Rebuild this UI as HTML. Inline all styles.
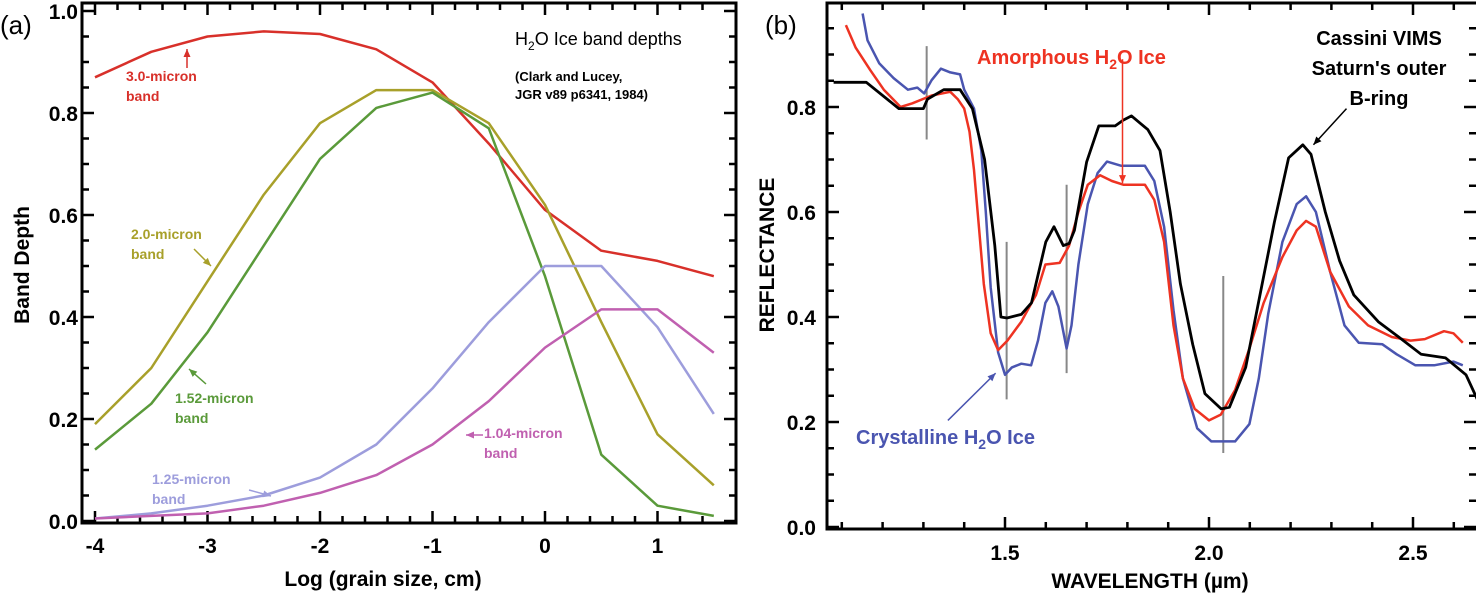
<!DOCTYPE html>
<html><head><meta charset="utf-8"><style>
body{margin:0;background:#fff;}
svg text{font-family:"Liberation Sans",sans-serif;}
</style></head><body>
<svg id="fig" width="1476" height="593" viewBox="0 0 1476 593" xmlns="http://www.w3.org/2000/svg">
<g id="pa"></g>
<g id="pb"></g>
</svg>
<script>
// ---- Panel (a) data ----
const aX = [-4,-3.5,-3,-2.5,-2,-1.5,-1,-0.5,0,0.5,1,1.5];
const band30 = [0.87,0.92,0.95,0.96,0.955,0.925,0.86,0.74,0.61,0.53,0.51,0.48];
const band20 = [0.19,0.30,0.47,0.64,0.78,0.845,0.845,0.78,0.62,0.39,0.17,0.07];
const band152 = [0.14,0.23,0.37,0.54,0.71,0.81,0.84,0.77,0.48,0.13,0.03,0.01];
const band125 = [0.005,0.015,0.03,0.05,0.085,0.15,0.26,0.39,0.50,0.50,0.38,0.21];
const band104 = [0.005,0.01,0.015,0.03,0.055,0.09,0.15,0.235,0.34,0.415,0.415,0.33];
const aXTicks = [-4,-3,-2,-1,0,1];
const aXTickLabels = ["-4","-3","-2","-1","0","1"];
const aYTicks = [0,0.2,0.4,0.6,0.8,1.0];
const aYTickLabels = ["0.0","0.2","0.4","0.6","0.8","1.0"];

// ---- Panel (b) data ----
const blackW = [1.08,1.16,1.24,1.30,1.31,1.35,1.39,1.42,1.45,1.475,1.49,1.505,1.54,1.565,1.60,1.62,1.643,1.657,1.67,1.70,1.73,1.77,1.79,1.81,1.85,1.88,1.905,1.93,1.96,1.99,2.03,2.05,2.09,2.125,2.16,2.195,2.23,2.25,2.285,2.32,2.355,2.415,2.465,2.52,2.58,2.63,2.66,2.675];
const blackR = [0.847,0.847,0.797,0.797,0.815,0.833,0.833,0.797,0.70,0.536,0.40,0.398,0.405,0.427,0.543,0.572,0.536,0.54,0.565,0.695,0.764,0.764,0.775,0.783,0.757,0.717,0.60,0.463,0.348,0.254,0.225,0.228,0.304,0.442,0.58,0.703,0.728,0.71,0.60,0.507,0.442,0.391,0.362,0.329,0.322,0.29,0.239,0.196];
const amorW = [1.11,1.134,1.17,1.203,1.244,1.273,1.32,1.366,1.384,1.40,1.413,1.424,1.436,1.448,1.465,1.483,1.506,1.54,1.576,1.599,1.634,1.657,1.68,1.703,1.733,1.762,1.79,1.843,1.866,1.89,1.913,1.936,1.965,2.0,2.029,2.064,2.099,2.134,2.18,2.215,2.238,2.262,2.297,2.343,2.39,2.448,2.494,2.529,2.576,2.599,2.622];
const amorR = [0.956,0.913,0.87,0.833,0.80,0.807,0.822,0.829,0.815,0.797,0.753,0.68,0.572,0.463,0.369,0.337,0.355,0.391,0.442,0.50,0.503,0.536,0.60,0.652,0.67,0.659,0.652,0.652,0.623,0.543,0.384,0.283,0.225,0.203,0.214,0.261,0.34,0.427,0.514,0.565,0.583,0.572,0.486,0.42,0.384,0.362,0.355,0.358,0.373,0.369,0.351];
const crysW = [1.151,1.163,1.192,1.227,1.262,1.285,1.302,1.32,1.343,1.366,1.39,1.40,1.424,1.442,1.453,1.465,1.483,1.50,1.517,1.54,1.564,1.581,1.599,1.616,1.631,1.651,1.663,1.68,1.703,1.727,1.75,1.785,1.843,1.866,1.89,1.913,1.936,1.971,2.006,2.064,2.099,2.122,2.145,2.18,2.215,2.238,2.262,2.297,2.332,2.367,2.425,2.46,2.506,2.552,2.599,2.622];
const crysR = [0.978,0.927,0.883,0.855,0.833,0.837,0.826,0.851,0.873,0.866,0.862,0.833,0.797,0.717,0.60,0.456,0.333,0.29,0.304,0.311,0.308,0.355,0.427,0.449,0.42,0.34,0.384,0.50,0.615,0.674,0.696,0.688,0.688,0.659,0.572,0.413,0.283,0.188,0.163,0.163,0.196,0.283,0.406,0.543,0.615,0.63,0.60,0.486,0.384,0.351,0.348,0.329,0.308,0.308,0.315,0.308];
const markerW = [1.308,1.504,1.651,2.035];
const markerTop = [0.916,0.543,0.652,0.478];
const markerBot = [0.738,0.243,0.293,0.141];
const bXTicks = [1.5,2.0,2.5];
const bXTickLabels = ["1.5","2.0","2.5"];
const bYTicks = [0,0.2,0.4,0.6,0.8];
const bYTickLabels = ["0.0","0.2","0.4","0.6","0.8"];

const NS="http://www.w3.org/2000/svg";
function mk(parent,tag,attrs,text){const e=document.createElementNS(NS,tag);for(const k in attrs)e.setAttribute(k,attrs[k]);if(text!==undefined)e.textContent=text;parent.appendChild(e);return e;}

// axis functions
const ax=v=>95+(v+4)*112.5;
const ay=v=>521-v*510;
const bx=v=>1005+(v-1.5)*408;
const by=v=>527-v*525;

function poly(g,xs,ys,fx,fy,color,w,name){
  const pts=xs.map((x,i)=>fx(x).toFixed(1)+","+fy(ys[i]).toFixed(1)).join(" ");
  const p=mk(g,"polyline",{points:pts,fill:"none",stroke:color,"stroke-width":w,"stroke-linejoin":"round"});
  
  
}
function arrow(g,x1,y1,x2,y2,color,name){
  const a=mk(g,"line",{x1:x1,y1:y1,x2:x2,y2:y2,stroke:color,"stroke-width":1.5});
  
  
  const ang=Math.atan2(y2-y1,x2-x1),L=8,W=3.5;
  const p1=[x2-L*Math.cos(ang)+W*Math.sin(ang),y2-L*Math.sin(ang)-W*Math.cos(ang)];
  const p2=[x2-L*Math.cos(ang)-W*Math.sin(ang),y2-L*Math.sin(ang)+W*Math.cos(ang)];
  const h=mk(g,"polygon",{points:`${x2},${y2} ${p1} ${p2}`,fill:color});
  
  
}
function txt(g,x,y,s,attrs,name){
  const t=mk(g,"text",Object.assign({x:x,y:y},attrs),s);
  
  
  return t;
}

// ---- Panel A ----
const A=document.getElementById("pa");
const aL=82,aR=736,aT=3,aB=523;
const fa=mk(A,"rect",{x:aL,y:aT,width:aR-aL,height:aB-aT,fill:"none",stroke:"#000","stroke-width":3});


for(let i=0;i<=27;i++){const v=-4+i*0.2;const x=ax(v);if(x>aR-2)break;const maj=Math.abs(v-Math.round(v))<1e-6;const L=maj?12:7;
 const t1=mk(A,"line",{x1:x,y1:aB,x2:x,y2:aB-L,stroke:"#000","stroke-width":2.5});
 const t2=mk(A,"line",{x1:x,y1:aT,x2:x,y2:aT+L,stroke:"#000","stroke-width":2.5});}
for(let i=0;i<=20;i++){const v=i*0.05;const y=ay(v);const maj=i%4===0;const L=maj?12:7;
 const t1=mk(A,"line",{x1:aL,y1:y,x2:aL+L,y2:y,stroke:"#000","stroke-width":2.5});
 const t2=mk(A,"line",{x1:aR,y1:y,x2:aR-L,y2:y,stroke:"#000","stroke-width":2.5});}
aXTicks.forEach((v,i)=>txt(A,ax(v),553,aXTickLabels[i],{"text-anchor":"middle","font-size":21,"font-weight":"bold"},"x-tick-label-a"));
aYTicks.forEach((v,i)=>txt(A,78,ay(v)+8,aYTickLabels[i],{"text-anchor":"end","font-size":21,"font-weight":"bold"},"y-tick-label-a"));
txt(A,383,586,"Log (grain size, cm)",{"text-anchor":"middle","font-size":21,"font-weight":"bold"},"x-axis-title-a");
txt(A,0,0,"Band Depth",{"text-anchor":"middle","font-size":21,"font-weight":"bold",transform:"translate(29,265) rotate(-90)"},"y-axis-title-a");
txt(A,0,34,"(a)",{"font-size":26},"panel-label-a");
const h2o=txt(A,515,45,"",{"font-size":18},"title-a");
h2o.innerHTML='H<tspan font-size="12" dy="5">2</tspan><tspan dy="-5">O Ice band depths</tspan>';
txt(A,515,81,"(Clark and Lucey,",{"font-size":13,"font-weight":"bold"},"citation-line1");
txt(A,515,99,"JGR v89 p6341, 1984)",{"font-size":13,"font-weight":"bold"},"citation-line2");
poly(A,aX,band30,ax,ay,"#d8302a",2.5,"line-3.0-micron");
poly(A,aX,band20,ax,ay,"#a8a02a",2.5,"line-2.0-micron");
poly(A,aX,band152,ax,ay,"#5a9a3a",2.5,"line-1.52-micron");
poly(A,aX,band125,ax,ay,"#9d9ddc",2.5,"line-1.25-micron");
poly(A,aX,band104,ax,ay,"#c060b0",2.5,"line-1.04-micron");
const ann=[["3.0-micron","band",126,81,"#d8302a"],["2.0-micron","band",131,239,"#a8a02a"],["1.52-micron","band",175,403,"#5a9a3a"],["1.25-micron","band",152,484,"#9d9ddc"],["1.04-micron","band",484,438,"#c060b0"]];
ann.forEach(a=>{txt(A,a[2],a[3],a[0],{"font-size":14,"font-weight":"bold",fill:a[4]},"label-"+a[0]);txt(A,a[2],a[3]+20,a[1],{"font-size":14,"font-weight":"bold",fill:a[4]},"label-"+a[0]+"-band");});
arrow(A,187,68,187,49,"#d8302a","arrow-3.0");
arrow(A,194,249,211,266,"#a8a02a","arrow-2.0");
arrow(A,206,384,189,369,"#5a9a3a","arrow-1.52");
arrow(A,249,490,271,496,"#9d9ddc","arrow-1.25");
arrow(A,483,435,466,435,"#c060b0","arrow-1.04");

// ---- Panel B ----
const B=document.getElementById("pb");
const bL=827,bR=1476,bT=3,bB=529;
const fb=mk(B,"rect",{x:bL,y:bT,width:bR-bL+2,height:bB-bT,fill:"none",stroke:"#000","stroke-width":3});


for(let i=0;i<=16;i++){const v=1.1+i*0.1;const x=bx(v);if(x>bR-2)break;const maj=Math.abs(v*2-Math.round(v*2))<1e-6;const L=maj?12:7;
 const t1=mk(B,"line",{x1:x,y1:bB,x2:x,y2:bB-L,stroke:"#000","stroke-width":2.5});
 const t2=mk(B,"line",{x1:x,y1:bT,x2:x,y2:bT+L,stroke:"#000","stroke-width":2.5});}
for(let i=0;i<=19;i++){const v=i*0.05;const y=by(v);if(y<bT+2)break;const maj=i%4===0;const L=maj?12:7;
 const t1=mk(B,"line",{x1:bL,y1:y,x2:bL+L,y2:y,stroke:"#000","stroke-width":2.5});
 const t2=mk(B,"line",{x1:bR,y1:y,x2:bR-L,y2:y,stroke:"#000","stroke-width":2.5});}
bXTicks.forEach((v,i)=>txt(B,bx(v),560,bXTickLabels[i],{"text-anchor":"middle","font-size":21,"font-weight":"bold"},"x-tick-label-b"));
bYTicks.forEach((v,i)=>txt(B,816,by(v)+8,bYTickLabels[i],{"text-anchor":"end","font-size":21,"font-weight":"bold"},"y-tick-label-b"));
txt(B,1150,588,"WAVELENGTH (µm)",{"text-anchor":"middle","font-size":21,"font-weight":"bold"},"x-axis-title-b");
txt(B,0,0,"REFLECTANCE",{"text-anchor":"middle","font-size":21,"font-weight":"bold",transform:"translate(774,255) rotate(-90)"},"y-axis-title-b");
txt(B,765,34,"(b)",{"font-size":26},"panel-label-b");
markerW.forEach((w,i)=>{const l=mk(B,"line",{x1:bx(w),y1:by(markerTop[i]),x2:bx(w),y2:by(markerBot[i]),stroke:"#888","stroke-width":2});});
poly(B,crysW,crysR,bx,by,"#4a55b0",2.5,"line-crystalline");
poly(B,amorW,amorR,bx,by,"#ee3322",2.5,"line-amorphous");
poly(B,blackW,blackR,bx,by,"#000",2.8,"line-cassini-vims");
txt(B,1379,45,"Cassini VIMS",{"text-anchor":"middle","font-size":20,"font-weight":"bold"},"legend-cassini-1");
txt(B,1379,75,"Saturn's outer",{"text-anchor":"middle","font-size":20,"font-weight":"bold"},"legend-cassini-2");
txt(B,1379,105,"B-ring",{"text-anchor":"middle","font-size":20,"font-weight":"bold"},"legend-cassini-3");
const am=txt(B,977,64,"",{"font-size":20,"font-weight":"bold",fill:"#ee3322"},"legend-amorphous");
am.innerHTML='Amorphous H<tspan font-size="14" dy="5">2</tspan><tspan dy="-5">O Ice</tspan>';
const cr=txt(B,856,444,"",{"font-size":20,"font-weight":"bold",fill:"#4a55b0"},"legend-crystalline");
cr.innerHTML='Crystalline H<tspan font-size="14" dy="5">2</tspan><tspan dy="-5">O Ice</tspan>';
arrow(B,bx(1.788),by(0.891),bx(1.788),by(0.655),"#ee3322","arrow-amorphous");
arrow(B,bx(2.337),by(0.797),bx(2.256),by(0.728),"#000","arrow-cassini");
arrow(B,bx(1.36),by(0.203),bx(1.477),by(0.293),"#4a55b0","arrow-crystalline");
</script>
</body></html>
